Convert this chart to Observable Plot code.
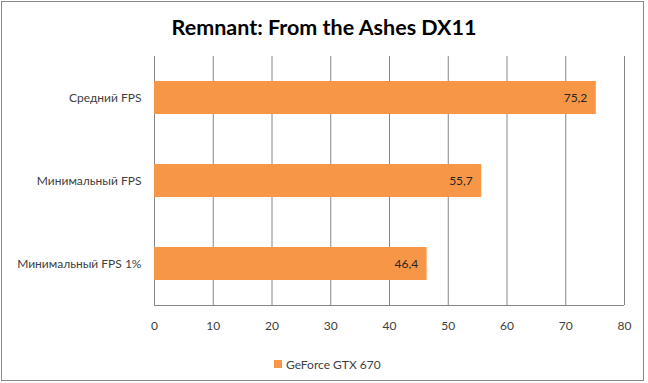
<!DOCTYPE html>
<html>
<head>
<meta charset="utf-8">
<script src="https://cdn.jsdelivr.net/npm/d3@7"></script>
<script src="https://cdn.jsdelivr.net/npm/@observablehq/plot@0.6"></script>
<style>
  body { margin: 0; background: #fff; }
  #wrap { position: relative; width: 648px; height: 383px; overflow: hidden; background: #fff; }
  #border { position: absolute; left: 1px; top: 1px; width: 641px; height: 378px; border: 1px solid #8a8a8a; pointer-events: none; }
  #title { position: absolute; left: 0; top: 14px; width: 648px; text-align: center; font: bold 21.5px Lato, "Open Sans", sans-serif; line-height: 26px; color: #000; }
  #chart { position: absolute; left: 0; top: 44px; }
  #legend { position: absolute; left: 274px; top: 354px; height: 20px; display: flex; align-items: center; font: 12px Lato, "Open Sans", sans-serif; color: #404040; }
  #legend .sw { width: 8px; height: 8px; background: #F79646; margin-right: 4px; }
</style>
</head>
<body>
<div id="wrap">
  <div id="title"></div>
  <div id="chart"></div>
  <div id="legend"><div class="sw"></div><span id="legtext"></span></div>
  <div id="border"></div>
</div>
<script>
const titleText = "Remnant: From the Ashes DX11";
const categories = ["Средний FPS", "Минимальный FPS", "Минимальный FPS 1%"];
const values = [75.2, 55.7, 46.4];
const seriesName = "GeForce GTX 670";
const xTicks = [0, 10, 20, 30, 40, 50, 60, 70, 80];

const data = categories.map((c, i) => ({category: c, value: values[i]}));
const fmt = v => d3.format(".1f")(v).replace(".", ",");

document.getElementById("title").textContent = titleText;
document.getElementById("legtext").textContent = seriesName;

const H = 296, MT = 12, MB = 35, ML = 154, MR = 24;
const chart = Plot.plot({
  width: 648,
  height: H,
  marginTop: MT,
  marginBottom: MB,
  marginLeft: ML,
  marginRight: MR,
  style: {fontFamily: "Lato, 'Open Sans', sans-serif", fontSize: "12px", color: "#404040", background: "transparent"},
  x: {domain: [0, 80], ticks: xTicks, tickSize: 0, tickPadding: 16, label: null},
  y: {domain: categories, paddingInner: 0.6, paddingOuter: 0.3, tickSize: 0, tickPadding: 13, label: null},
  marks: [
    Plot.gridX(xTicks, {stroke: "#868686", strokeOpacity: 1, strokeWidth: 1}),
    Plot.barX(data, {y: "category", x: "value", fill: "#F79646"}),
    Plot.text(data, {y: "category", x: "value", text: d => fmt(d.value), textAnchor: "end", dx: -9, fill: "#262626", fontSize: 12})
  ]
});
// bottom axis line along the x scale's range
const xs = chart.scale("x");
const yb = H - MB + 0.5;
d3.select(chart).append("line")
  .attr("x1", xs.apply(0)).attr("x2", xs.apply(80))
  .attr("y1", yb).attr("y2", yb)
  .attr("stroke", "#868686").attr("stroke-width", 1);
document.getElementById("chart").appendChild(chart);
</script>
</body>
</html>
